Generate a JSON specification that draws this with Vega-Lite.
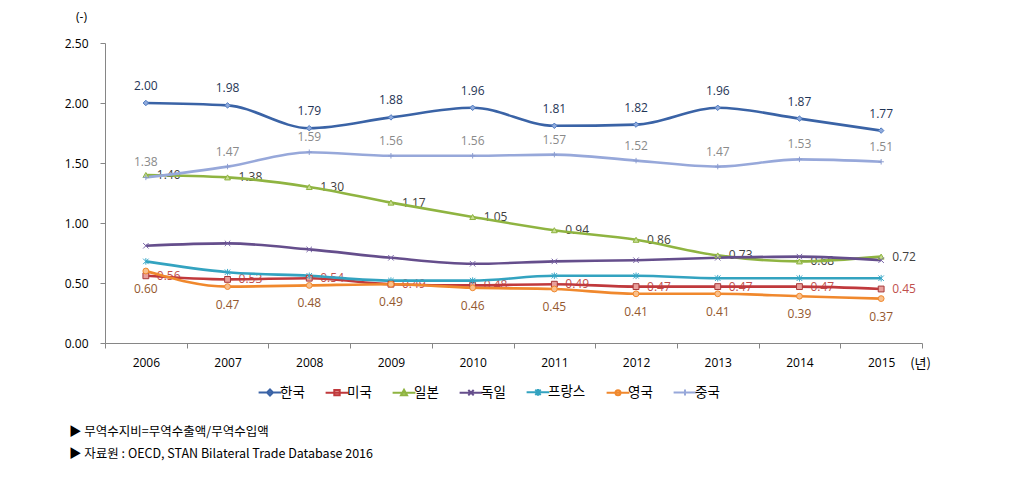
{
  "$schema": "https://vega.github.io/schema/vega-lite/v6.json",
  "width": 817,
  "height": 300,
  "autosize": {"type": "none"},
  "padding": {"left": 105, "top": 43, "right": 100, "bottom": 144},
  "background": "white",
  "title": {
    "text": "▶ 무역수지비=무역수출액/무역수입액",
    "subtitle": "▶ 자료원 : OECD, STAN Bilateral Trade Database 2016",
    "orient": "bottom",
    "anchor": "start",
    "frame": "group",
    "dx": -36,
    "offset": 26,
    "font": "Noto Sans CJK KR",
    "fontSize": 12.5,
    "fontWeight": "normal",
    "color": "#000000",
    "subtitleFont": "Noto Sans CJK KR",
    "subtitleFontSize": 12.5,
    "subtitleColor": "#000000",
    "subtitlePadding": 9
  },
  "data": {
    "values": [
      {"year": "2006", "country": "한국", "value": 2.00},
      {"year": "2007", "country": "한국", "value": 1.98},
      {"year": "2008", "country": "한국", "value": 1.79},
      {"year": "2009", "country": "한국", "value": 1.88},
      {"year": "2010", "country": "한국", "value": 1.96},
      {"year": "2011", "country": "한국", "value": 1.81},
      {"year": "2012", "country": "한국", "value": 1.82},
      {"year": "2013", "country": "한국", "value": 1.96},
      {"year": "2014", "country": "한국", "value": 1.87},
      {"year": "2015", "country": "한국", "value": 1.77},
      {"year": "2006", "country": "미국", "value": 0.56},
      {"year": "2007", "country": "미국", "value": 0.53},
      {"year": "2008", "country": "미국", "value": 0.54},
      {"year": "2009", "country": "미국", "value": 0.49},
      {"year": "2010", "country": "미국", "value": 0.48},
      {"year": "2011", "country": "미국", "value": 0.49},
      {"year": "2012", "country": "미국", "value": 0.47},
      {"year": "2013", "country": "미국", "value": 0.47},
      {"year": "2014", "country": "미국", "value": 0.47},
      {"year": "2015", "country": "미국", "value": 0.45},
      {"year": "2006", "country": "일본", "value": 1.40},
      {"year": "2007", "country": "일본", "value": 1.38},
      {"year": "2008", "country": "일본", "value": 1.30},
      {"year": "2009", "country": "일본", "value": 1.17},
      {"year": "2010", "country": "일본", "value": 1.05},
      {"year": "2011", "country": "일본", "value": 0.94},
      {"year": "2012", "country": "일본", "value": 0.86},
      {"year": "2013", "country": "일본", "value": 0.73},
      {"year": "2014", "country": "일본", "value": 0.68},
      {"year": "2015", "country": "일본", "value": 0.72},
      {"year": "2006", "country": "독일", "value": 0.81},
      {"year": "2007", "country": "독일", "value": 0.83},
      {"year": "2008", "country": "독일", "value": 0.78},
      {"year": "2009", "country": "독일", "value": 0.71},
      {"year": "2010", "country": "독일", "value": 0.66},
      {"year": "2011", "country": "독일", "value": 0.68},
      {"year": "2012", "country": "독일", "value": 0.69},
      {"year": "2013", "country": "독일", "value": 0.71},
      {"year": "2014", "country": "독일", "value": 0.72},
      {"year": "2015", "country": "독일", "value": 0.69},
      {"year": "2006", "country": "프랑스", "value": 0.68},
      {"year": "2007", "country": "프랑스", "value": 0.59},
      {"year": "2008", "country": "프랑스", "value": 0.56},
      {"year": "2009", "country": "프랑스", "value": 0.52},
      {"year": "2010", "country": "프랑스", "value": 0.52},
      {"year": "2011", "country": "프랑스", "value": 0.56},
      {"year": "2012", "country": "프랑스", "value": 0.56},
      {"year": "2013", "country": "프랑스", "value": 0.54},
      {"year": "2014", "country": "프랑스", "value": 0.54},
      {"year": "2015", "country": "프랑스", "value": 0.54},
      {"year": "2006", "country": "영국", "value": 0.60},
      {"year": "2007", "country": "영국", "value": 0.47},
      {"year": "2008", "country": "영국", "value": 0.48},
      {"year": "2009", "country": "영국", "value": 0.49},
      {"year": "2010", "country": "영국", "value": 0.46},
      {"year": "2011", "country": "영국", "value": 0.45},
      {"year": "2012", "country": "영국", "value": 0.41},
      {"year": "2013", "country": "영국", "value": 0.41},
      {"year": "2014", "country": "영국", "value": 0.39},
      {"year": "2015", "country": "영국", "value": 0.37},
      {"year": "2006", "country": "중국", "value": 1.38},
      {"year": "2007", "country": "중국", "value": 1.47},
      {"year": "2008", "country": "중국", "value": 1.59},
      {"year": "2009", "country": "중국", "value": 1.56},
      {"year": "2010", "country": "중국", "value": 1.56},
      {"year": "2011", "country": "중국", "value": 1.57},
      {"year": "2012", "country": "중국", "value": 1.52},
      {"year": "2013", "country": "중국", "value": 1.47},
      {"year": "2014", "country": "중국", "value": 1.53},
      {"year": "2015", "country": "중국", "value": 1.51}
    ]
  },
  "encoding": {
    "x": {
      "field": "year",
      "type": "ordinal",
      "scale": {"type": "band", "paddingInner": 0, "paddingOuter": 0},
      "axis": {
        "title": "(년)",
        "titleAngle": 0,
        "titleX": 815,
        "titleY": 20,
        "titleAlign": "center",
        "titleBaseline": "middle",
        "titleFont": "Noto Sans CJK KR",
        "titleFontSize": 13,
        "titleFontWeight": "normal",
        "titleColor": "#000000",
        "labelAngle": 0,
        "labelFont": "Open Sans",
        "labelFontSize": 12,
        "labelColor": "#000000",
        "labelPadding": 9,
        "tickBand": "extent",
        "tickSize": 5,
        "tickColor": "#868686",
        "domainColor": "#868686",
        "grid": false
      }
    },
    "y": {
      "field": "value",
      "type": "quantitative",
      "scale": {"domain": [0, 2.5], "nice": false, "zero": true},
      "axis": {
        "values": [0, 0.5, 1, 1.5, 2, 2.5],
        "format": ".2f",
        "title": "(-)",
        "titleAngle": 0,
        "titleX": -24,
        "titleY": -27,
        "titleAlign": "center",
        "titleBaseline": "middle",
        "titleFont": "Open Sans",
        "titleFontSize": 12,
        "titleFontWeight": "normal",
        "titleColor": "#000000",
        "labelFont": "Open Sans",
        "labelFontSize": 12,
        "labelColor": "#000000",
        "labelPadding": 12,
        "tickSize": 5,
        "tickColor": "#868686",
        "domainColor": "#868686",
        "grid": false
      }
    }
  },
  "layer": [
    {
      "transform": [{"filter": "datum.country === '한국'"}],
      "mark": {"type": "text", "dy": -17, "font": "Open Sans", "fontSize": 12, "color": "#1F3556"},
      "encoding": {"text": {"field": "value", "type": "quantitative", "format": ".2f"}}
    },
    {
      "transform": [{"filter": "datum.country === '중국'"}],
      "mark": {"type": "text", "dy": -15, "font": "Open Sans", "fontSize": 12, "color": "#8A8A8A"},
      "encoding": {"text": {"field": "value", "type": "quantitative", "format": ".2f"}}
    },
    {
      "transform": [{"filter": "datum.country === '일본'"}],
      "mark": {"type": "text", "dx": 11, "align": "left", "font": "Open Sans", "fontSize": 12, "color": "#404040"},
      "encoding": {"text": {"field": "value", "type": "quantitative", "format": ".2f"}}
    },
    {
      "transform": [{"filter": "datum.country === '미국'"}],
      "mark": {"type": "text", "dx": 11, "align": "left", "font": "Open Sans", "fontSize": 12, "color": "#C0504D"},
      "encoding": {"text": {"field": "value", "type": "quantitative", "format": ".2f"}}
    },
    {
      "transform": [{"filter": "datum.country === '영국'"}],
      "mark": {"type": "text", "dy": 18, "font": "Open Sans", "fontSize": 12, "color": "#94582E"},
      "encoding": {"text": {"field": "value", "type": "quantitative", "format": ".2f"}}
    },
    {
      "mark": {"type": "line", "interpolate": "monotone", "strokeWidth": 2.6},
      "encoding": {
        "color": {
          "field": "country",
          "type": "nominal",
          "scale": {
            "domain": ["한국", "미국", "일본", "독일", "프랑스", "영국", "중국"],
            "range": ["#3A63A6", "#C0393C", "#8FB441", "#654E8C", "#33A3C0", "#F0882D", "#97A8DA"]
          },
          "legend": {
            "title": null,
            "orient": "none",
            "direction": "horizontal",
            "legendX": 158,
            "legendY": 342,
            "symbolSize": 144,
            "symbolStrokeWidth": 2,
            "labelFont": "Noto Sans CJK KR",
            "labelFontSize": 13.5,
            "labelColor": "#000000",
            "labelOffset": 3,
            "columnPadding": 16,
            "encode": {
              "symbols": {
                "update": {
                  "shape": {"signal": "datum.value === '한국' ? 'M-1.9,0H1.9M0,-0.5L0.5,0L0,0.5L-0.5,0Z' : datum.value === '미국' ? 'M-1.9,0H1.9M-0.45,-0.45H0.45V0.45H-0.45Z' : datum.value === '일본' ? 'M-1.9,0H1.9M0,-0.5L0.5,0.4H-0.5Z' : datum.value === '독일' ? 'M-1.9,0H1.9M-0.45,-0.45L0.45,0.45M-0.45,0.45L0.45,-0.45' : datum.value === '프랑스' ? 'M-1.9,0H1.9M-0.45,-0.45L0.45,0.45M-0.45,0.45L0.45,-0.45M0,-0.55V0.55' : datum.value === '영국' ? 'M-1.9,0H1.9M0.42,0A0.42,0.42,0,1,1,-0.42,0A0.42,0.42,0,1,1,0.42,0Z' : 'M-1.9,0H1.9M0,-0.5V0.5'"},
                  "fill": {"signal": "datum.value === '한국' ? '#8FAADC' : datum.value === '미국' ? '#E8A09C' : datum.value === '일본' ? '#C6DC92' : datum.value === '영국' ? '#F9C08C' : 'transparent'"},
                  "strokeWidth": {"value": 2}
                }
              }
            }
          }
        },
        "detail": {"field": "country"}
      }
    },
    {
      "transform": [{"filter": "datum.country === '한국'"}],
      "mark": {"type": "point", "shape": "diamond", "filled": true, "size": 30, "strokeWidth": 1, "opacity": 1, "fill": "#8FAADC", "stroke": "#4F7BC0"}
    },
    {
      "transform": [{"filter": "datum.country === '미국'"}],
      "mark": {"type": "point", "shape": "square", "filled": true, "size": 34, "strokeWidth": 1, "opacity": 1, "fill": "#E8A09C", "stroke": "#A83A3A"}
    },
    {
      "transform": [{"filter": "datum.country === '일본'"}],
      "mark": {"type": "point", "shape": "triangle-up", "filled": true, "size": 34, "strokeWidth": 1, "opacity": 1, "fill": "#C6DC92", "stroke": "#8FB441"}
    },
    {
      "transform": [{"filter": "datum.country === '독일'"}],
      "mark": {"type": "point", "shape": "M-1,-1L1,1M-1,1L1,-1", "filled": false, "size": 30, "strokeWidth": 1, "opacity": 1, "stroke": "#7A66A8"}
    },
    {
      "transform": [{"filter": "datum.country === '프랑스'"}],
      "mark": {"type": "point", "shape": "M-1,-1L1,1M-1,1L1,-1M0,-1.2L0,1.2", "filled": false, "size": 30, "strokeWidth": 1, "opacity": 1, "stroke": "#3AA8C8"}
    },
    {
      "transform": [{"filter": "datum.country === '영국'"}],
      "mark": {"type": "point", "shape": "circle", "filled": true, "size": 34, "strokeWidth": 1, "opacity": 1, "fill": "#F9C08C", "stroke": "#F0882D"}
    },
    {
      "transform": [{"filter": "datum.country === '중국'"}],
      "mark": {"type": "point", "shape": "M-1,0L1,0M0,-1L0,1", "filled": false, "size": 30, "strokeWidth": 1, "opacity": 1, "stroke": "#8C9DD0"}
    }
  ],
  "config": {
    "view": {"stroke": null}
  }
}
